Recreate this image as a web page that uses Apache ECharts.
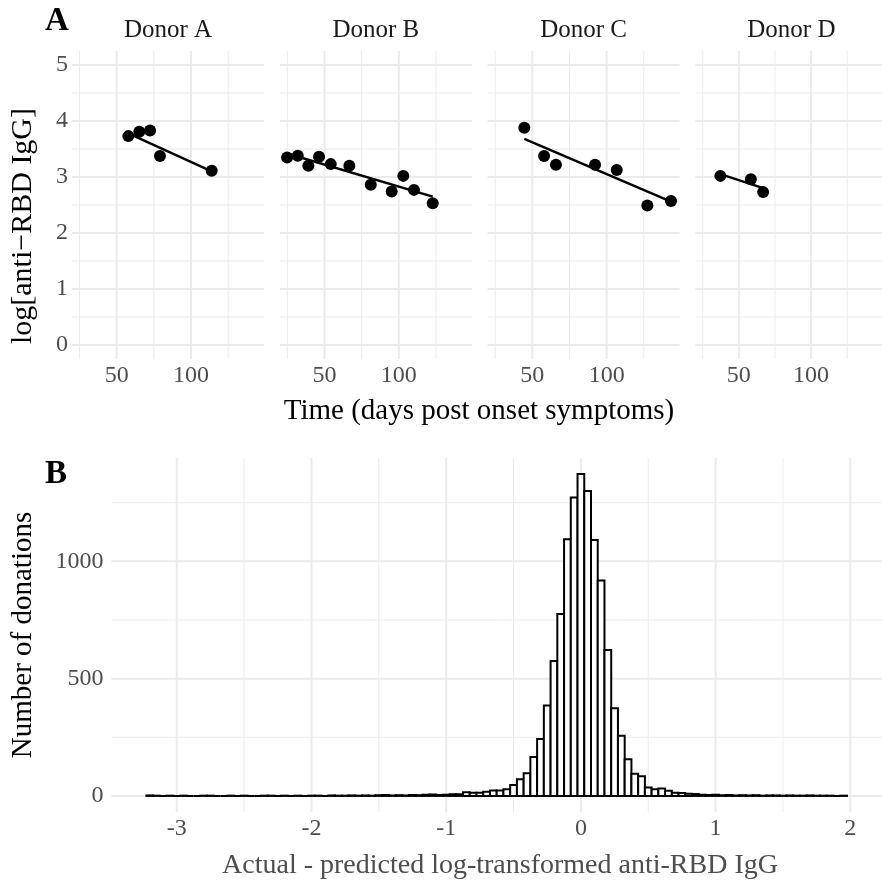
<!DOCTYPE html>
<html><head><meta charset="utf-8">
<script src="https://cdn.jsdelivr.net/npm/echarts@6/dist/echarts.min.js"></script>
<style>html,body{margin:0;padding:0;background:#fff}#c{width:882px;height:886px}</style>
</head><body><div id="c"></div>
<script>
// ---------- DATA ----------
const donorNames = ['Donor A', 'Donor B', 'Donor C', 'Donor D'];
const donorA_days = [57.8, 65.2, 72.4, 79.1, 113.9];
const donorA_igg  = [3.73, 3.81, 3.83, 3.375, 3.11];
const donorB_days = [24.8, 32.0, 39.1, 46.3, 54.2, 66.7, 81.1, 95.2, 103.0, 110.2, 122.8];
const donorB_igg  = [3.35, 3.38, 3.20, 3.36, 3.23, 3.20, 2.86, 2.74, 3.02, 2.77, 2.53];
const donorC_days = [44.6, 57.9, 65.9, 92.2, 106.8, 127.4, 143.3];
const donorC_igg  = [3.88, 3.375, 3.22, 3.22, 3.125, 2.49, 2.57];
const donorD_days = [37.2, 58.3, 66.8];
const donorD_igg  = [3.02, 2.96, 2.73];
// fitted lines (start, end)
const fitA_days = [57.8, 113.9];  const fitA_igg = [3.78, 3.10];
const fitB_days = [24.8, 122.8];  const fitB_igg = [3.42, 2.65];
const fitC_days = [44.6, 143.3];  const fitC_igg = [3.68, 2.56];
const fitD_days = [37.2, 66.8];   const fitD_igg = [3.05, 2.80];
const xTicksA = [50, 100];
const yTicksA = [0, 1, 2, 3, 4, 5];

// histogram of residuals: bins of width 0.05, first bin centred at -3.2
const binWidth = 0.05;
const firstBinCenter = -3.2;
const histCounts = [
  2,1,0,1,0,1,0,0,1,1, 0,0,1,0,1,0,0,1,1,0,
  1,0,1,0,1,1,0,2,1,1, 2,1,2,1,3,4,2,3,2,4,
  3,5,6,4,5,7,7,16,14,14, 18,23,23,28,47,71,97,166,243,385,
  575,776,1094,1272,1372,1300,1091,918,622,374, 257,156,95,84,36,28,32,22,14,12,
  9,8,5,4,5,3,4,2,3,2, 3,1,2,2,1,2,1,1,2,1, 1,1,0,1
];
const xTicksB = [-3, -2, -1, 0, 1, 2];
const yTicksB = [0, 500, 1000];

// ---------- LAYOUT / STYLE ----------
const FONT = "'Liberation Serif', 'Times New Roman', serif";
const GRID_COL = '#EBEBEB';
const TICK_COL = '#4D4D4D';
const pA = {left: 72, step: 207.8, width: 192, top: 51, height: 308};
const xRangeA = [19.9, 149.1], yRangeA = [-0.25, 5.25];
const pB = {left: 111.4, top: 458, width: 777.3, height: 354};
const xRangeB = [-3.485, 2.235], yRangeB = [-68.6, 1440.6];

const donorDays = [donorA_days, donorB_days, donorC_days, donorD_days];
const donorIgg = [donorA_igg, donorB_igg, donorC_igg, donorD_igg];
const fitDays = [fitA_days, fitB_days, fitC_days, fitD_days];
const fitIgg = [fitA_igg, fitB_igg, fitC_igg, fitD_igg];

function zip(a, b) { return a.map((v, i) => [v, b[i]]); }

function gridSeries(idx, vMajor, vMinor, hMajor, hMinor, refX, refY) {
  const data = [];
  vMinor.forEach(v => data.push([0, v, 0]));
  hMinor.forEach(v => data.push([1, v, 0]));
  vMajor.forEach(v => data.push([0, v, 1]));
  hMajor.forEach(v => data.push([1, v, 1]));
  return {
    type: 'custom', xAxisIndex: idx, yAxisIndex: idx, silent: true, z: 0,
    data: data,
    renderItem: function (params, api) {
      const cs = params.coordSys;
      const o = api.value(0), v = api.value(1), m = api.value(2);
      const lw = m ? 2 : 1;
      if (o === 0) {
        const x = api.coord([v, refY])[0];
        return {type: 'line', shape: {x1: x, y1: cs.y, x2: x, y2: cs.y + cs.height},
                style: {stroke: GRID_COL, lineWidth: lw}};
      }
      const y = api.coord([refX, v])[1];
      return {type: 'line', shape: {x1: cs.x, y1: y, x2: cs.x + cs.width, y2: y},
              style: {stroke: GRID_COL, lineWidth: lw}};
    }
  };
}

const grids = [], xAxes = [], yAxes = [], series = [], graphics = [];
for (let i = 0; i < 4; i++) {
  const left = pA.left + i * pA.step;
  grids.push({left: left, top: pA.top, width: pA.width, height: pA.height});
  xAxes.push({
    type: 'value', gridIndex: i, min: xRangeA[0], max: xRangeA[1],
    axisLine: {show: false}, axisTick: {show: false}, splitLine: {show: false},
    axisLabel: {customValues: xTicksA, color: TICK_COL, fontSize: 24, fontFamily: FONT, margin: 5}
  });
  yAxes.push({
    type: 'value', gridIndex: i, min: yRangeA[0], max: yRangeA[1],
    axisLine: {show: false}, axisTick: {show: false}, splitLine: {show: false},
    axisLabel: {show: i === 0, customValues: yTicksA, color: TICK_COL, fontSize: 24, fontFamily: FONT, margin: 4}
  });
  series.push(gridSeries(i, [50, 100], [25, 75, 125], [0, 1, 2, 3, 4, 5], [0.5, 1.5, 2.5, 3.5, 4.5], 50, 0));
  series.push({
    type: 'line', xAxisIndex: i, yAxisIndex: i, z: 3, data: zip(fitDays[i], fitIgg[i]),
    showSymbol: false, symbol: 'none', lineStyle: {color: '#000', width: 2.4}, silent: true
  });
  series.push({
    type: 'scatter', xAxisIndex: i, yAxisIndex: i, z: 4, data: zip(donorDays[i], donorIgg[i]),
    symbol: 'circle', symbolSize: 12, itemStyle: {color: '#000', opacity: 1}, silent: true
  });
  graphics.push({type: 'text', x: left + pA.width / 2, y: 30,
    style: {text: donorNames[i], font: '25px ' + FONT, fill: '#1A1A1A', textAlign: 'center', textVerticalAlign: 'middle'}});
}

// histogram panel
grids.push({left: pB.left, top: pB.top, width: pB.width, height: pB.height});
xAxes.push({
  type: 'value', gridIndex: 4, min: xRangeB[0], max: xRangeB[1],
  axisLine: {show: false}, axisTick: {show: false}, splitLine: {show: false},
  axisLabel: {customValues: xTicksB, color: TICK_COL, fontSize: 24, fontFamily: FONT, margin: 5,
              formatter: v => (v < 0 ? '-' + Math.abs(v) : String(v))}
});
yAxes.push({
  type: 'value', gridIndex: 4, min: yRangeB[0], max: yRangeB[1],
  axisLine: {show: false}, axisTick: {show: false}, splitLine: {show: false},
  axisLabel: {customValues: yTicksB, color: TICK_COL, fontSize: 24, fontFamily: FONT, margin: 8,
              formatter: v => String(v)}
});
series.push(gridSeries(4, [-3, -2, -1, 0, 1, 2], [-2.5, -1.5, -0.5, 0.5, 1.5],
                       [0, 500, 1000], [250, 750, 1250], 0, 0));
series.push({
  type: 'custom', xAxisIndex: 4, yAxisIndex: 4, z: 3, silent: true,
  data: histCounts.map((c, i) => [Math.round((firstBinCenter + i * binWidth) * 1000) / 1000, c]),
  renderItem: function (params, api) {
    const c = api.value(0), n = api.value(1);
    const p0 = api.coord([c - binWidth / 2, n]);
    const p1 = api.coord([c + binWidth / 2, 0]);
    return {type: 'rect', shape: {x: p0[0], y: p0[1], width: p1[0] - p0[0], height: p1[1] - p0[1]},
            style: {fill: '#fff', stroke: '#000', lineWidth: 2}};
  }
});

// titles
graphics.push({type: 'text', x: 45, y: 21, style: {text: 'A', font: 'bold 33px ' + FONT, fill: '#000', textAlign: 'left', textVerticalAlign: 'middle'}});
graphics.push({type: 'text', x: 45, y: 474, style: {text: 'B', font: 'bold 33px ' + FONT, fill: '#000', textAlign: 'left', textVerticalAlign: 'middle'}});
graphics.push({type: 'text', x: 479, y: 411, style: {text: 'Time (days post onset symptoms)', font: '29px ' + FONT, fill: '#000', textAlign: 'center', textVerticalAlign: 'middle'}});
graphics.push({type: 'text', x: 23, y: 226, rotation: Math.PI / 2, style: {text: 'log[anti\u2212RBD IgG]', font: '30px ' + FONT, fill: '#000', textAlign: 'center', textVerticalAlign: 'middle'}});
graphics.push({type: 'text', x: 500, y: 866, style: {text: 'Actual - predicted log-transformed anti-RBD IgG', font: '28px ' + FONT, fill: TICK_COL, textAlign: 'center', textVerticalAlign: 'middle'}});
graphics.push({type: 'text', x: 23, y: 635, rotation: Math.PI / 2, style: {text: 'Number of donations', font: '29px ' + FONT, fill: '#000', textAlign: 'center', textVerticalAlign: 'middle'}});

const chart = echarts.init(document.getElementById('c'), null, {renderer: 'canvas'});
chart.setOption({
  animation: false,
  backgroundColor: '#fff',
  grid: grids, xAxis: xAxes, yAxis: yAxes, series: series,
  graphic: graphics
});
</script></body></html>
